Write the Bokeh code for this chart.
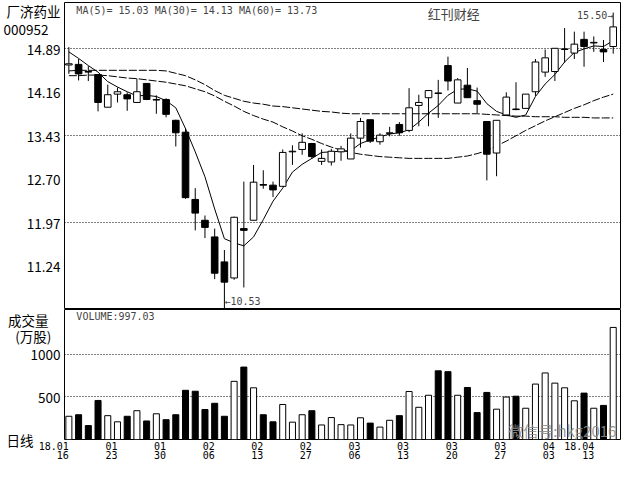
from bokeh.plotting import figure
from bokeh.layouts import column
from bokeh.models import (Range1d, FixedTicker, CustomJSTickFormatter, Label,
                          ColumnDataSource)
from bokeh.embed import file_html
from bokeh.resources import INLINE

# ---------------- data ----------------
opens = [14.62, 14.63, 14.51, 14.46, 13.91, 14.13, 14.12, 13.99, 14.31, 14.03,
         14.04, 13.69, 13.49, 12.36, 12.01, 11.73, 11.31, 11.04, 11.87, 12.01,
         12.61, 12.60, 12.58, 13.16, 13.20, 13.30, 13.00, 12.99, 13.16, 13.04,
         13.39, 13.70, 13.33, 13.47, 13.62, 13.52, 13.94, 14.07, 14.15, 14.61,
         13.98, 14.28, 14.02, 13.67, 13.14, 13.78, 13.88, 13.89, 14.17, 14.50,
         14.51, 14.88, 14.82, 15.05, 14.99, 14.88, 14.93]
highs = [14.92, 14.72, 14.60, 14.46, 14.29, 14.24, 14.16, 14.39, 14.31, 14.11,
         14.06, 13.70, 13.56, 12.55, 12.09, 11.87, 11.51, 12.07, 12.66, 12.94,
         12.85, 12.66, 13.20, 13.27, 13.47, 13.31, 13.20, 13.21, 13.26, 13.47,
         13.73, 13.70, 13.47, 13.58, 13.66, 14.23, 14.12, 14.20, 14.37, 14.76,
         14.40, 14.57, 14.24, 13.67, 13.69, 14.16, 14.33, 14.13, 14.72, 14.88,
         14.90, 15.24, 15.18, 15.18, 15.10, 15.04, 15.50]
lows = [14.47, 14.36, 14.35, 13.84, 13.91, 13.99, 13.85, 13.98, 14.03, 13.80,
        13.74, 13.25, 12.37, 11.84, 11.71, 11.02, 10.53, 11.01, 10.88, 12.01,
        12.54, 12.40, 12.58, 12.94, 13.11, 13.04, 12.94, 12.93, 13.01, 13.04,
        13.23, 13.31, 13.28, 13.42, 13.43, 13.49, 13.59, 13.59, 13.73, 14.19,
        13.98, 14.07, 13.81, 12.68, 12.75, 13.78, 13.86, 13.89, 14.10, 14.42,
        14.35, 14.66, 14.72, 14.59, 14.84, 14.67, 14.81]
closes = [14.64, 14.47, 14.50, 13.99, 14.12, 14.17, 14.05, 14.17, 14.04, 14.04,
          13.79, 13.48, 12.39, 12.13, 11.89, 11.12, 10.97, 12.06, 11.84, 12.65,
          12.60, 12.52, 13.15, 13.17, 13.32, 13.08, 13.05, 13.17, 13.21, 13.39,
          13.67, 13.34, 13.44, 13.48, 13.48, 13.90, 13.99, 14.19, 14.14, 14.35,
          14.37, 14.07, 13.96, 13.12, 13.69, 14.08, 13.87, 14.13, 14.67, 14.74,
          14.90, 14.89, 14.97, 14.93, 15.00, 14.84, 15.26]
volumes = [272, 290, 163, 457, 279, 207, 272, 337, 217, 301,
           232, 290, 576, 565, 351, 424, 272, 681, 848, 605,
           290, 207, 410, 203, 290, 337, 170, 257, 174, 170,
           254, 192, 145, 225, 279, 562, 377, 518, 804, 794,
           518, 609, 315, 551, 355, 497, 507, 366, 649, 779,
           660, 605, 453, 543, 366, 399, 1312]
ma5 = [14.84, 14.73, 14.61, 14.50, 14.34, 14.25, 14.17, 14.10, 14.11, 14.09,
       14.02, 13.90, 13.55, 13.16, 12.74, 12.20, 11.70, 11.63, 11.58, 11.73,
       12.02, 12.33, 12.55, 12.82, 12.95, 13.05, 13.15, 13.16, 13.17, 13.18,
       13.30, 13.36, 13.41, 13.46, 13.48, 13.53, 13.66, 13.81, 13.94, 14.11,
       14.21, 14.22, 14.18, 13.97, 13.84, 13.78, 13.74, 13.78, 14.09, 14.30,
       14.46, 14.67, 14.83, 14.89, 14.94, 14.93, 15.03]
ma30 = [14.44, 14.44, 14.45, 14.45, 14.44, 14.42, 14.40, 14.39, 14.37, 14.35,
        14.33, 14.30, 14.27, 14.22, 14.17, 14.10, 14.01, 13.93, 13.84, 13.77,
        13.71, 13.66, 13.58, 13.51, 13.43, 13.37, 13.30, 13.24, 13.19, 13.15,
        13.12, 13.10, 13.08, 13.07, 13.06, 13.05, 13.05, 13.05, 13.05, 13.05,
        13.07, 13.09, 13.13, 13.18, 13.26, 13.34, 13.43, 13.52, 13.60, 13.68,
        13.75, 13.82, 13.89, 13.95, 14.02, 14.08, 14.13]
ma60 = [14.52, 14.53, 14.53, 14.53, 14.53, 14.53, 14.53, 14.53, 14.53, 14.53,
        14.52, 14.48, 14.44, 14.37, 14.29, 14.19, 14.11, 14.06, 14.01, 13.98,
        13.96, 13.93, 13.92, 13.90, 13.88, 13.86, 13.84, 13.83, 13.81, 13.80,
        13.80, 13.80, 13.80, 13.80, 13.80, 13.80, 13.80, 13.80, 13.80, 13.80,
        13.80, 13.80, 13.80, 13.79, 13.78, 13.77, 13.76, 13.76, 13.75, 13.75,
        13.75, 13.74, 13.74, 13.74, 13.73, 13.73, 13.73]

price_ticks = [11.24, 11.97, 12.70, 13.43, 14.16, 14.89]
price_grid = [11.97, 13.43, 14.89]
vol_ticks = [500, 1000]
date_tick_idx = [0, 5, 10, 15, 20, 25, 30, 35, 40, 45, 50, 56]
date_tick_top = ["18.01", "01", "01", "02", "02", "02",
                 "03", "03", "03", "03", "04", "18.04"]
date_tick_bottom = ["16", "23", "30", "06", "13", "27",
                    "06", "13", "20", "27", "03", "13"]

stock_name = "厂济药业"
stock_code = "000952"
ma_text = "MA(5)= 15.03  MA(30)= 14.13  MA(60)= 13.73"
source_text = "红刊财经"
vol_title = ["成交量", "(万股)"]
period_text = "日线"
vol_text = "VOLUME:997.03"
watermark = "微信号:hkg2016"

# ---------------- sources ----------------
idx = list(range(len(closes)))
up = [c >= o for o, c in zip(opens, closes)]
src = ColumnDataSource(dict(
    x=idx, h=highs, l=lows,
    top=[max(o, c) for o, c in zip(opens, closes)],
    bot=[min(o, c) for o, c in zip(opens, closes)],
    fill=["white" if u else "black" for u in up],
    v=volumes, zero=[0] * len(volumes),
    ma5=ma5, ma30=ma30, ma60=ma60,
))

NB = "\u00a0"      # no-break space (not collapsed)
IS = "\u3000"      # ideographic space
date_labels = []
for t, b in zip(date_tick_top, date_tick_bottom):
    w = max(len(t), len(b))
    date_labels.append(t.rjust(w, NB) + NB * w + "\n" + b.rjust(w, NB) + NB * w)

MONO = "DejaVu Sans Mono"
CJK = "Noto Sans CJK SC"

# left-margin texts are carried by the y axes (text outside the frame)
p1_tick_pos = price_ticks + [15.23, 15.57]
p1_tick_lab = ["%.2f" % t for t in price_ticks] + [stock_code + NB * 4, stock_name]
p2_tick_pos = [0] + vol_ticks + [1215, 1440]
p2_tick_lab = [period_text + IS * 2] + [str(v) for v in vol_ticks] + \
              [vol_title[1] + NB * 3, vol_title[0] + NB * 4]

LOOKUP = ("for (let i = 0; i < pos.length; i++) {"
          " if (Math.abs(pos[i] - tick) < 1e-6) return labs[i]; }"
          " return '';")

xr = Range1d(-0.45, 56.75)


def style_yaxis(ax):
    ax.axis_line_color = None
    ax.major_tick_line_color = None
    ax.minor_tick_line_color = None
    ax.major_tick_out = 0
    ax.major_tick_in = 0
    ax.minor_tick_out = 0
    ax.minor_tick_in = 0
    ax.major_label_standoff = 4
    ax.major_label_text_font = CJK
    ax.major_label_text_font_size = "13.5px"
    ax.major_label_text_color = "black"


# ---------------- price panel ----------------
H1, H2 = 309, 155
p1 = figure(width=624, height=H1, x_range=xr, y_range=Range1d(10.51, 15.67),
            output_backend="svg", toolbar_location=None, x_axis_location=None,
            min_border_left=63, min_border_right=4, min_border_top=2,
            min_border_bottom=0)
p1.background_fill_color = "white"
p1.border_fill_color = "white"
p1.outline_line_color = "black"
p1.outline_line_width = 1
p1.xgrid.visible = False
p1.ygrid.ticker = FixedTicker(ticks=price_grid)
p1.ygrid.grid_line_color = "black"
p1.ygrid.grid_line_dash = "1 2"
p1.yaxis.ticker = FixedTicker(ticks=p1_tick_pos)
p1.yaxis.formatter = CustomJSTickFormatter(
    args=dict(pos=p1_tick_pos, labs=p1_tick_lab), code=LOOKUP)
style_yaxis(p1.yaxis[0])

p1.line("x", "ma60", source=src, color="black", line_width=1, line_dash="8 2")
p1.line("x", "ma30", source=src, color="black", line_width=1, line_dash="8 2")
p1.line("x", "ma5", source=src, color="black", line_width=1)
p1.segment(x0="x", y0="h", x1="x", y1="l", source=src, color="black", line_width=1)
p1.vbar(x="x", width=0.68, top="top", bottom="bot", source=src,
        fill_color="fill", line_color="black", line_width=1)

p1.add_layout(Label(x=0.77, y=15.62, text=ma_text, text_font=MONO,
                    text_font_size="10px", text_baseline="top", text_align="left"))
p1.add_layout(Label(x=39.6, y=15.64, text=source_text, text_font=CJK,
                    text_font_size="13px", text_baseline="top", text_align="center"))

imax = max(idx, key=lambda i: highs[i])
imin = min(idx, key=lambda i: lows[i])
p1.add_layout(Label(x=imax, y=highs[imax], text="%.2f→" % highs[imax],
                    text_font=MONO, text_font_size="10px",
                    text_baseline="middle", text_align="right", y_offset=-3))
p1.add_layout(Label(x=imin, y=lows[imin], text="←%.2f" % lows[imin],
                    text_font=MONO, text_font_size="10px",
                    text_baseline="bottom", text_align="left", y_offset=1))

# ---------------- volume panel ----------------
p2 = figure(width=624, height=H2, x_range=xr, y_range=Range1d(0, 1522),
            output_backend="svg", toolbar_location=None,
            min_border_left=63, min_border_right=4, min_border_top=0,
            min_border_bottom=0)
p2.background_fill_color = "white"
p2.border_fill_color = "white"
p2.outline_line_color = "black"
p2.outline_line_width = 1
p2.xgrid.visible = False
p2.ygrid.ticker = FixedTicker(ticks=vol_ticks)
p2.ygrid.grid_line_color = "black"
p2.ygrid.grid_line_dash = "1 2"
p2.yaxis.ticker = FixedTicker(ticks=p2_tick_pos)
p2.yaxis.formatter = CustomJSTickFormatter(
    args=dict(pos=p2_tick_pos, labs=p2_tick_lab), code=LOOKUP)
style_yaxis(p2.yaxis[0])

p2.xaxis.ticker = FixedTicker(ticks=date_tick_idx)
p2.xaxis.formatter = CustomJSTickFormatter(
    args=dict(pos=date_tick_idx, labs=date_labels), code=LOOKUP)
p2.xaxis.axis_line_color = None
p2.xaxis.major_tick_line_color = None
p2.xaxis.minor_tick_line_color = None
p2.xaxis.major_tick_out = 0
p2.xaxis.major_tick_in = 0
p2.xaxis.minor_tick_out = 0
p2.xaxis.minor_tick_in = 0
p2.xaxis.major_label_standoff = 1
p2.xaxis.major_label_text_font = MONO
p2.xaxis.major_label_text_font_size = "10px"
p2.xaxis.major_label_text_line_height = 0.9
p2.xaxis.major_label_text_color = "black"

p2.vbar(x="x", width=0.62, top="v", bottom="zero", source=src,
        fill_color="fill", line_color="black", line_width=1)

p2.add_layout(Label(x=0.77, y=1500, text=vol_text, text_font=MONO,
                    text_font_size="10px", text_baseline="top", text_align="left"))
p2.add_layout(Label(x=45.2, y=225, text=watermark, text_font=CJK,
                    text_font_size="15px", text_baseline="top", text_align="left",
                    text_color="#8c8c8c", text_alpha=0.9))

layout = column(p1, p2, spacing=0)
open("out.html", "w").write(file_html(layout, INLINE))
